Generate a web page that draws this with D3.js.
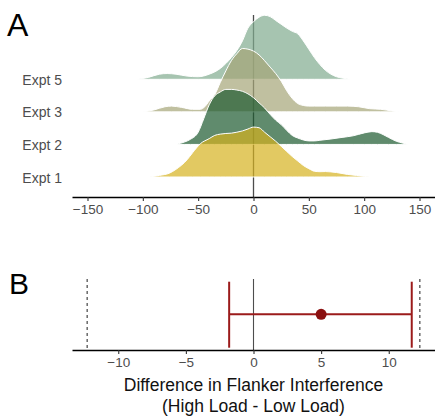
<!DOCTYPE html>
<html>
<head>
<meta charset="utf-8">
<script src="https://cdn.jsdelivr.net/npm/d3@7"></script>
<style>
  body { margin: 0; background: #fff; }
  text { font-family: "Liberation Sans", Arial, sans-serif; }
</style>
</head>
<body>
<div id="chart"></div>
<script>
// ridge data: x value (ms) and relative density (1 = tallest ridge)
var expts = ["Expt 1", "Expt 2", "Expt 3", "Expt 5"];
var exptColors = ["#d6b21f", "#1c5a2f", "#a5a577", "#80ab8e"];

var expt5X = [-105, -95, -85, -78, -70, -60, -50, -40, -30, -20, -15, -10, -5, 0, 5, 10, 15, 20, 25, 30, 35, 40, 45, 50, 55, 60, 65, 70, 75, 80, 88];
var expt5D = [0, .03, .08, .09, .08, .05, .04, .08, .17, .34, .45, .60, .80, .90, .97, 1.0, .98, .92, .86, .80, .75, .71, .60, .47, .34, .23, .14, .08, .04, .02, 0];

var expt3X = [-100, -90, -80, -74, -65, -55, -48, -44, -40, -35, -30, -25, -20, -15, -10, -5, 0, 5, 10, 15, 20, 25, 30, 35, 40, 45, 50, 55, 65, 75, 85, 95, 105, 115, 125, 132];
var expt3D = [0, .03, .08, .09, .07, .04, .04, .08, .17, .27, .46, .64, .80, .91, .99, .98, .95, .89, .80, .70, .60, .48, .33, .21, .13, .10, .09, .09, .09, .09, .09, .08, .05, .04, .015, 0];

var expt2X = [-70, -62, -57, -50, -45, -40, -35, -30, -25, -20, -15, -10, -5, 0, 5, 10, 15, 20, 25, 30, 35, 40, 45, 50, 55, 60, 70, 80, 90, 100, 107, 112, 117, 122, 129, 135, 141];
var expt2D = [0, .04, .08, .19, .40, .62, .76, .82, .86, .86, .85, .83, .79, .73, .65, .57, .47, .38, .31, .22, .14, .10, .07, .055, .055, .065, .085, .11, .135, .18, .20, .19, .155, .11, .05, .02, 0];

var expt1X = [-94, -85, -76, -70, -60, -55, -48, -40, -35, -30, -25, -20, -15, -10, -5, 0, 5, 10, 15, 20, 25, 30, 35, 40, 45, 50, 55, 60, 65, 70, 75, 85, 93, 100, 104];
var expt1D = [0, .025, .06, .12, .27, .38, .52, .60, .65, .67, .68, .685, .70, .72, .75, .78, .77, .70, .63, .56, .48, .40, .32, .25, .18, .13, .09, .083, .085, .08, .07, .04, .025, .01, 0];

var ridgeX = [expt1X, expt2X, expt3X, expt5X];
var ridgeD = [expt1D, expt2D, expt3D, expt5D];
var xTicks = [-150, -100, -50, 0, 50, 100, 150];

// panel B: estimate, confidence interval, equivalence bounds
var estimate = 5.0;
var ciLow = -1.8, ciHigh = 11.7;
var bounds = [-12.3, 12.3];
var bTicks = [-10, -5, 0, 5, 10];

var width = 435, height = 417;

var svg = d3
  .select("#chart")
  .append("svg")
  .attr("width", width)
  .attr("height", height);

///////////////////////////////////////////////
// Panel A: ridgeline
///////////////////////////////////////////////
var x = d3.scaleLinear().domain([-164, 164]).range([72, 435]);
var y = d3.scalePoint().domain(expts).range([177, 79.3]);
var h = d3.scaleLinear().domain([0, 1]).range([0, 64]);

// zero line sits behind the ridges
svg
  .append("line")
  .attr("x1", x(0))
  .attr("x2", x(0))
  .attr("y1", 15)
  .attr("y2", 197)
  .style("stroke", "#4d4d4d")
  .style("stroke-width", 1.3);

// draw from the top row down so lower ridges overlap
for (var i = expts.length - 1; i >= 0; i--) {
  var base = y(expts[i]);
  var pts = ridgeX[i].map(function (v, j) {
    return [v, ridgeD[i][j]];
  });
  var area = d3
    .area()
    .curve(d3.curveMonotoneX)
    .x(function (d) { return x(d[0]); })
    .y0(base)
    .y1(function (d) { return base - h(d[1]); });
  svg
    .append("path")
    .datum(pts)
    .attr("d", area)
    .attr("fill", exptColors[i])
    .attr("fill-opacity", 0.7)
    .attr("stroke", "#fff")
    .attr("stroke-width", 1);
}

svg
  .selectAll(".exptlabel")
  .data(expts)
  .enter()
  .append("text")
  .attr("class", "exptlabel")
  .attr("x", 62)
  .attr("y", function (d) { return y(d) + 5.5; })
  .attr("text-anchor", "end")
  .attr("font-size", 14)
  .attr("fill", "#4d4d4d")
  .text(function (d) { return d; });

var xAxis = svg
  .append("g")
  .attr("transform", "translate(0,197)")
  .call(d3.axisBottom(x).tickValues(xTicks).tickSize(4).tickSizeOuter(0).tickPadding(3));
xAxis.select(".domain").attr("stroke", "#000").attr("stroke-width", 1.3);
xAxis.selectAll(".tick line").attr("stroke", "#333").attr("stroke-width", 1.1);
xAxis
  .selectAll(".tick text")
  .attr("font-size", 13.5)
  .attr("fill", "#4d4d4d")
  .style("font-family", "'Liberation Sans', Arial, sans-serif");

svg
  .append("text")
  .attr("x", 7)
  .attr("y", 36)
  .attr("font-size", 32)
  .attr("fill", "#000")
  .text("A");

///////////////////////////////////////////////
// Panel B: difference estimate with CI
///////////////////////////////////////////////
var xb = d3.scaleLinear().domain([-13.42, 13.42]).range([72, 435]);
var rowY = 314.3;

svg
  .append("line")
  .attr("x1", xb(0))
  .attr("x2", xb(0))
  .attr("y1", 279)
  .attr("y2", 350)
  .style("stroke", "#4d4d4d")
  .style("stroke-width", 1.1);

svg
  .selectAll(".bound")
  .data(bounds)
  .enter()
  .append("line")
  .attr("class", "bound")
  .attr("x1", function (d) { return xb(d); })
  .attr("x2", function (d) { return xb(d); })
  .attr("y1", 279)
  .attr("y2", 350)
  .style("stroke", "#333")
  .style("stroke-width", 1.1)
  .style("stroke-dasharray", "3,3");

var red = "#9b1b1b";
svg
  .append("line")
  .attr("x1", xb(ciLow))
  .attr("x2", xb(ciHigh))
  .attr("y1", rowY)
  .attr("y2", rowY)
  .style("stroke", red)
  .style("stroke-width", 2);

svg
  .selectAll(".cap")
  .data([ciLow, ciHigh])
  .enter()
  .append("line")
  .attr("class", "cap")
  .attr("x1", function (d) { return xb(d); })
  .attr("x2", function (d) { return xb(d); })
  .attr("y1", 281.7)
  .attr("y2", 347.7)
  .style("stroke", red)
  .style("stroke-width", 2);

svg
  .append("circle")
  .attr("cx", xb(estimate))
  .attr("cy", rowY)
  .attr("r", 5.5)
  .attr("fill", "#8b1010");

var bAxis = svg
  .append("g")
  .attr("transform", "translate(0,350)")
  .call(d3.axisBottom(xb).tickValues(bTicks).tickSize(4).tickSizeOuter(0).tickPadding(3));
bAxis.select(".domain").attr("stroke", "#000").attr("stroke-width", 1.3);
bAxis.selectAll(".tick line").attr("stroke", "#333").attr("stroke-width", 1.1);
bAxis
  .selectAll(".tick text")
  .attr("font-size", 13.5)
  .attr("fill", "#4d4d4d")
  .style("font-family", "'Liberation Sans', Arial, sans-serif");

svg
  .append("text")
  .attr("x", xb(0))
  .attr("y", 391.3)
  .attr("text-anchor", "middle")
  .attr("font-size", 17.5)
  .attr("fill", "#111")
  .text("Difference in Flanker Interference");

svg
  .append("text")
  .attr("x", xb(0))
  .attr("y", 411.7)
  .attr("text-anchor", "middle")
  .attr("font-size", 17.5)
  .attr("fill", "#111")
  .text("(High Load - Low Load)");

svg
  .append("text")
  .attr("x", 9)
  .attr("y", 293.5)
  .attr("font-size", 30)
  .attr("fill", "#000")
  .text("B");
</script>
</body>
</html>
